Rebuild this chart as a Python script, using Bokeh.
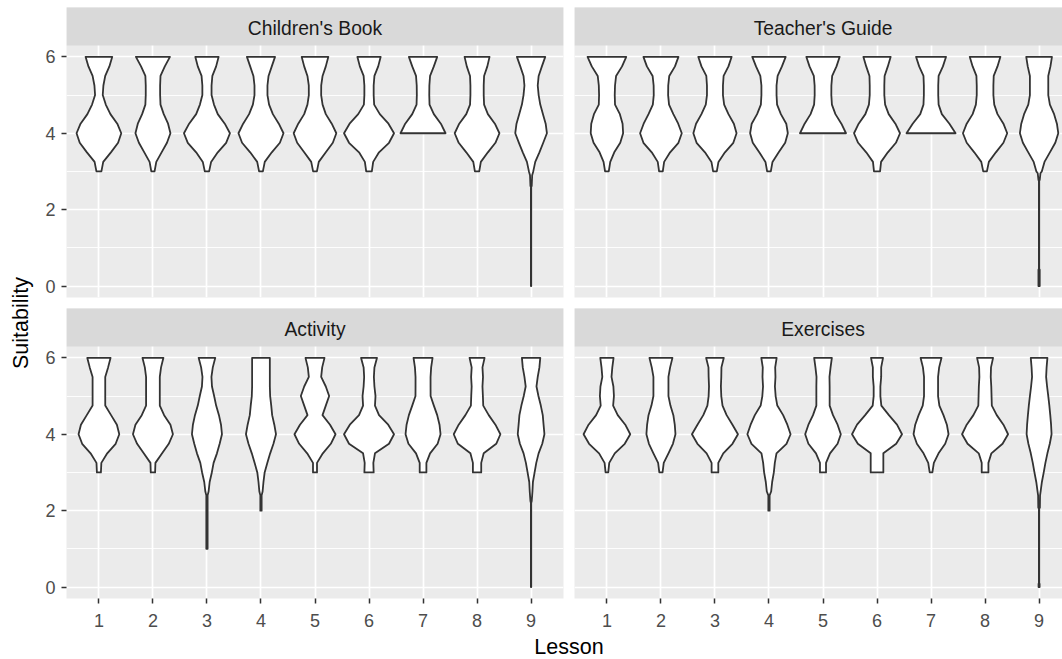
import math
from bokeh.plotting import figure
from bokeh.models import Range1d, FixedTicker, ColumnDataSource
from bokeh.layouts import row, column
from bokeh.embed import file_html
from bokeh.resources import INLINE
from bokeh.core.properties import value

FONT = "Liberation Sans"

# ---------------- data ----------------
PANELS = ["Children's Book", "Teacher's Guide", "Activity", "Exercises"]
LESSONS = [1, 2, 3, 4, 5, 6, 7, 8, 9]
Y_TICKS = [0, 2, 4, 6]
Y_MINOR = [1, 3, 5]
Y_LEVELS = [3.0, 3.25, 3.5, 3.75, 4.0, 4.25, 4.5, 4.75, 5.0, 5.25, 5.5, 5.75, 6.0]

# violin half-widths (in lesson units) at Y_LEVELS, one row per lesson
childrens_book = [
    [0.046, 0.080, 0.222, 0.355, 0.414, 0.340, 0.213, 0.127, 0.071, 0.083, 0.117, 0.194, 0.247],
    [0.030, 0.062, 0.160, 0.260, 0.324, 0.280, 0.200, 0.140, 0.133, 0.133, 0.140, 0.220, 0.315],
    [0.040, 0.077, 0.200, 0.355, 0.426, 0.330, 0.200, 0.130, 0.085, 0.085, 0.100, 0.170, 0.216],
    [0.035, 0.070, 0.200, 0.350, 0.417, 0.330, 0.220, 0.150, 0.120, 0.120, 0.140, 0.200, 0.260],
    [0.035, 0.070, 0.200, 0.330, 0.395, 0.310, 0.200, 0.140, 0.114, 0.115, 0.140, 0.200, 0.247],
    [0.052, 0.077, 0.185, 0.370, 0.463, 0.360, 0.200, 0.095, 0.086, 0.086, 0.100, 0.170, 0.216],
    [None, None, None, None, 0.417, 0.330, 0.200, 0.120, 0.115, 0.117, 0.130, 0.200, 0.262],
    [0.040, 0.070, 0.200, 0.340, 0.414, 0.330, 0.200, 0.130, 0.123, 0.123, 0.130, 0.190, 0.231],
    [0.040, 0.077, 0.154, 0.225, 0.293, 0.270, 0.220, 0.170, 0.140, 0.123, 0.140, 0.200, 0.262],
]
teachers_guide = [
    [0.034, 0.062, 0.136, 0.247, 0.300, 0.290, 0.240, 0.150, 0.145, 0.150, 0.170, 0.280, 0.358],
    [0.034, 0.059, 0.170, 0.324, 0.386, 0.320, 0.230, 0.150, 0.133, 0.135, 0.154, 0.260, 0.324],
    [0.034, 0.065, 0.185, 0.340, 0.400, 0.350, 0.250, 0.170, 0.148, 0.148, 0.160, 0.250, 0.309],
    [0.034, 0.065, 0.180, 0.300, 0.349, 0.320, 0.220, 0.150, 0.140, 0.140, 0.160, 0.240, 0.309],
    [None, None, None, None, 0.426, 0.340, 0.230, 0.165, 0.154, 0.155, 0.170, 0.250, 0.309],
    [0.056, 0.075, 0.200, 0.350, 0.426, 0.340, 0.216, 0.150, 0.135, 0.135, 0.140, 0.200, 0.253],
    [None, None, None, None, 0.454, 0.340, 0.200, 0.140, 0.133, 0.133, 0.140, 0.220, 0.278],
    [0.034, 0.070, 0.200, 0.340, 0.410, 0.340, 0.230, 0.170, 0.154, 0.154, 0.160, 0.230, 0.284],
    [0.050, 0.100, 0.200, 0.300, 0.355, 0.330, 0.278, 0.200, 0.170, 0.170, 0.170, 0.210, 0.238],
]
activity = [
    [0.037, 0.045, 0.154, 0.310, 0.377, 0.333, 0.225, 0.117, 0.117, 0.117, 0.117, 0.170, 0.216],
    [0.040, 0.046, 0.170, 0.293, 0.370, 0.324, 0.207, 0.127, 0.127, 0.127, 0.127, 0.150, 0.194],
    [0.090, 0.123, 0.185, 0.235, 0.278, 0.260, 0.222, 0.170, 0.133, 0.093, 0.083, 0.108, 0.154],
    [0.068, 0.117, 0.170, 0.231, 0.278, 0.247, 0.207, 0.190, 0.170, 0.164, 0.164, 0.164, 0.164],
    [0.037, 0.037, 0.145, 0.293, 0.380, 0.278, 0.139, 0.200, 0.262, 0.200, 0.114, 0.133, 0.176],
    [0.086, 0.080, 0.110, 0.370, 0.463, 0.355, 0.185, 0.110, 0.120, 0.100, 0.090, 0.100, 0.148],
    [0.062, 0.062, 0.130, 0.270, 0.324, 0.305, 0.262, 0.200, 0.140, 0.139, 0.139, 0.150, 0.176],
    [0.077, 0.077, 0.123, 0.355, 0.432, 0.340, 0.216, 0.114, 0.108, 0.100, 0.110, 0.100, 0.139],
    [0.065, 0.096, 0.139, 0.207, 0.247, 0.231, 0.216, 0.180, 0.136, 0.100, 0.123, 0.154, 0.170],
]
exercises = [
    [0.025, 0.043, 0.145, 0.330, 0.432, 0.340, 0.200, 0.115, 0.130, 0.120, 0.085, 0.100, 0.123],
    [0.030, 0.052, 0.139, 0.222, 0.269, 0.256, 0.230, 0.176, 0.139, 0.139, 0.139, 0.170, 0.213],
    [0.062, 0.062, 0.154, 0.324, 0.426, 0.324, 0.216, 0.140, 0.117, 0.110, 0.117, 0.120, 0.164],
    [0.090, 0.108, 0.139, 0.324, 0.400, 0.340, 0.262, 0.154, 0.123, 0.110, 0.120, 0.115, 0.142],
    [0.056, 0.056, 0.130, 0.270, 0.330, 0.270, 0.185, 0.123, 0.123, 0.123, 0.120, 0.140, 0.164],
    [0.117, 0.117, 0.117, 0.355, 0.463, 0.370, 0.220, 0.080, 0.062, 0.062, 0.077, 0.077, 0.111],
    [0.025, 0.052, 0.139, 0.262, 0.324, 0.293, 0.230, 0.154, 0.130, 0.130, 0.130, 0.150, 0.194],
    [0.062, 0.062, 0.117, 0.324, 0.426, 0.340, 0.216, 0.125, 0.120, 0.115, 0.105, 0.110, 0.148],
    [0.086, 0.117, 0.154, 0.198, 0.231, 0.222, 0.207, 0.190, 0.170, 0.148, 0.130, 0.139, 0.154],
]

# tails below 3 (ascending y) : lesson -> (y values, half-widths)
cb_tails = {9: ([0.0, 2.6, 2.62, 2.9], [0.003, 0.003, 0.012, 0.02])}
tg_tails = {9: ([0.0, 0.43, 0.45, 2.75, 2.78, 2.95], [0.012, 0.012, 0.003, 0.003, 0.012, 0.025])}
act_tails = {
    3: ([1.0, 2.4, 2.5, 2.75], [0.012, 0.012, 0.03, 0.05]),
    4: ([2.0, 2.4, 2.5, 2.75], [0.012, 0.012, 0.03, 0.046]),
    9: ([0.0, 2.2, 2.25, 2.5, 2.75], [0.003, 0.003, 0.012, 0.025, 0.034]),
}
ex_tails = {
    4: ([2.0, 2.4, 2.5, 2.75], [0.012, 0.012, 0.04, 0.059]),
    9: ([0.0, 0.08, 0.1, 2.05, 2.08, 2.4, 2.5, 2.75],
        [0.01, 0.01, 0.003, 0.003, 0.015, 0.018, 0.028, 0.052]),
}

PANEL_WIDTHS = [childrens_book, teachers_guide, activity, exercises]
PANEL_TAILS = [cb_tails, tg_tails, act_tails, ex_tails]

# ---------------- layout constants ----------------
FRAME_H = 290
PX_PER_Y = 38.2
Y_LO = -0.3
Y_HI = 6.3
Y_TOP = Y_LO + FRAME_H / PX_PER_Y
LEFT_FRAME_W = 497
PX_PER_X = LEFT_FRAME_W / 9.2
RIGHT_FRAME_W = 488
TOTAL_H = 659
TOP_ROW_H = 308
BOTTOM_ROW_H = 326
XLAB_H = TOTAL_H - TOP_ROW_H - BOTTOM_ROW_H


def make_panel(idx, left, bottom):
    name = PANELS[idx]
    widths = PANEL_WIDTHS[idx]
    tails = PANEL_TAILS[idx]
    bl = 30 if left else 6
    br = 5 if left else 0
    bt = 0 if bottom else 7
    bb = BOTTOM_ROW_H - FRAME_H if bottom else TOP_ROW_H - FRAME_H - bt
    fw = LEFT_FRAME_W if left else RIGHT_FRAME_W
    x_end = 0.4 + fw / PX_PER_X
    p = figure(width=fw + bl + br, height=FRAME_H + bb + bt,
               x_range=Range1d(0.4, x_end), y_range=Range1d(Y_LO, Y_TOP),
               output_backend="svg", toolbar_location=None,
               min_border_left=bl, min_border_right=br,
               min_border_top=bt, min_border_bottom=bb)
    p.background_fill_color = "#EBEBEB"
    p.border_fill_color = "white"
    p.outline_line_color = None

    p.xgrid.ticker = FixedTicker(ticks=LESSONS)
    p.ygrid.ticker = FixedTicker(ticks=Y_TICKS, minor_ticks=Y_MINOR)
    for g in (p.xgrid, p.ygrid):
        g.grid_line_color = "white"
        g.grid_line_width = 1.7
    p.ygrid.minor_grid_line_color = "white"
    p.ygrid.minor_grid_line_width = 0.9

    p.xaxis.ticker = FixedTicker(ticks=LESSONS)
    p.yaxis.ticker = FixedTicker(ticks=Y_TICKS)
    for ax in (p.xaxis, p.yaxis):
        ax.axis_line_color = None
        ax.major_tick_in = 0
        ax.major_tick_out = 5
        ax.major_tick_line_color = "#333333"
        ax.major_tick_line_width = 1.5
        ax.minor_tick_line_color = None
        ax.major_label_text_font = FONT
        ax.major_label_text_font_size = "18px"
        ax.major_label_text_color = "#4D4D4D"
    p.xaxis.major_label_standoff = 10
    p.yaxis.major_label_standoff = 6
    p.xaxis.visible = bottom
    p.yaxis.visible = left

    # strip
    p.quad(left=[0.4], right=[9.6], bottom=[Y_HI], top=[Y_TOP + 1],
           fill_color="#D9D9D9", line_color=None)
    p.text(x=[5.0], y=[(Y_HI + Y_TOP) / 2 - 2.0 / PX_PER_Y], text=[name],
           text_align="center", text_baseline="middle",
           text_font=value(FONT), text_font_size="19.3px", text_color="#1A1A1A")

    xs, ys = [], []
    for i, lesson in enumerate(LESSONS):
        pts = []
        if lesson in tails:
            ty, tw = tails[lesson]
            pts += list(zip(ty, tw))
        pts += [(y, w) for y, w in zip(Y_LEVELS, widths[i]) if w is not None]
        yv = [a for a, b in pts]
        wv = [b for a, b in pts]
        xs.append([lesson - w for w in wv] + [lesson + w for w in reversed(wv)])
        ys.append(yv + list(reversed(yv)))
    src = ColumnDataSource(dict(xs=xs, ys=ys))
    p.patches("xs", "ys", source=src, fill_color="white",
              line_color="#333333", line_width=1.8, line_join="round")
    return p


tl = make_panel(0, True, False)
tr = make_panel(1, False, False)
bl_ = make_panel(2, True, True)
br_ = make_panel(3, False, True)

ylab = figure(width=36, height=TOTAL_H, x_range=Range1d(0, 36), y_range=Range1d(0, TOTAL_H),
              x_axis_type=None, y_axis_type=None, min_border=0,
              output_backend="svg", toolbar_location=None)
ylab.outline_line_color = None
ylab.grid.visible = False
ylab.text(x=[20], y=[TOTAL_H - 322.5], text=["Suitability"], angle=math.pi / 2,
          text_align="center", text_baseline="middle",
          text_font=value(FONT), text_font_size="21.5px", text_color="black")

xlab = figure(width=1026, height=XLAB_H, x_range=Range1d(0, 1026), y_range=Range1d(0, XLAB_H),
              x_axis_type=None, y_axis_type=None, min_border=0,
              output_backend="svg", toolbar_location=None)
xlab.outline_line_color = None
xlab.grid.visible = False
xlab.text(x=[532.5], y=[TOTAL_H - 646], text=["Lesson"], text_align="center",
          text_baseline="middle", text_font=value(FONT),
          text_font_size="21.5px", text_color="black")

layout = row(ylab, column(row(tl, tr), row(bl_, br_), xlab))

open("out.html", "w").write(file_html(layout, INLINE))
